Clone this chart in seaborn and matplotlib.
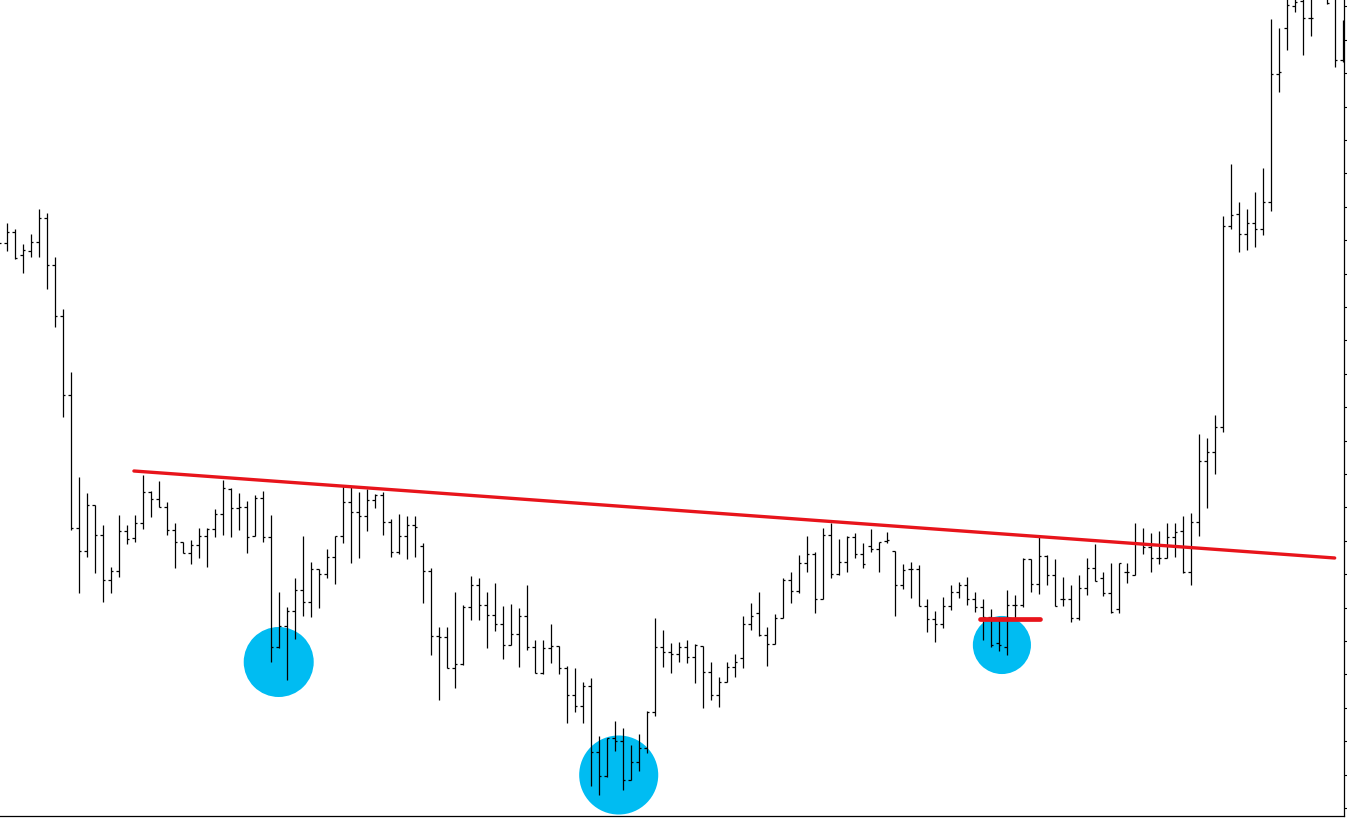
import numpy as np
import pandas as pd
import matplotlib
matplotlib.use("Agg")
import matplotlib.pyplot as plt
from matplotlib.ticker import MultipleLocator
import seaborn as sns

# OHLC bars (price in chart points)
highs = [578, 593, 587, 572, 582, 607, 603, 559, 507, 444,
         339, 323, 311, 291, 249, 301, 291, 301, 341, 325,
         335, 314, 293, 274, 276, 288, 288, 307, 336, 328,
         323, 315, 321, 325, 301, 224, 209, 238, 280, 254,
         247, 267, 280, 331, 330, 324, 327, 322, 324, 297,
         302, 300, 300, 273, 248, 189, 189, 224, 211, 240,
         238, 224, 233, 210, 212, 208, 231, 176, 176, 192,
         170, 150, 148, 134, 138, 80, 78, 95, 88, 71,
         82, 105, 198, 186, 173, 174, 176, 172, 170, 154,
         139, 154, 162, 200, 213, 224, 189, 202, 238, 244,
         261, 280, 264, 288, 293, 277, 280, 283, 273, 287,
         274, 284, 265, 252, 254, 251, 217, 205, 219, 231,
         234, 239, 224, 217, 207, 199, 226, 221, 258, 257,
         279, 261, 257, 239, 231, 241, 258, 272, 244, 253,
         253, 253, 293, 288, 283, 285, 293, 293, 300, 303,
         382, 378, 401, 600, 652, 614, 607, 624, 648, 797,
         788, 825, 830, 828, 826, 856, 840, 830, 796]
lows = [566, 565, 557, 543, 559, 559, 527, 489, 399, 286,
        223, 259, 243, 214, 223, 239, 272, 274, 287, 299,
        309, 281, 248, 263, 252, 258, 249, 279, 281, 279,
        286, 263, 280, 274, 154, 168, 136, 177, 200, 199,
        208, 238, 232, 273, 253, 258, 285, 308, 281, 259,
        262, 257, 259, 213, 161, 116, 148, 128, 151, 196,
        196, 168, 185, 157, 171, 149, 166, 143, 142, 153,
        142, 93, 104, 93, 30, 21, 39, 65, 26, 36,
        45, 63, 100, 149, 143, 154, 153, 133, 108, 116,
        109, 134, 139, 148, 186, 180, 150, 172, 198, 213,
        223, 244, 203, 217, 238, 241, 244, 258, 248, 264,
        244, 273, 200, 227, 218, 210, 184, 174, 188, 206,
        218, 211, 204, 176, 169, 165, 161, 198, 209, 224,
        222, 231, 210, 210, 194, 196, 221, 235, 220, 203,
        203, 233, 241, 262, 244, 252, 258, 259, 243, 231,
        280, 308, 342, 384, 587, 564, 566, 569, 581, 605,
        724, 766, 804, 761, 780, 824, 812, 749, 754]
opens = [570, 573, 584, 561, 565, 574, 598, 551, 500, 421,
         288, 265, 311, 281, 236, 245, 285, 278, 293, 324,
         317, 309, 286, 274, 263, 271, 280, 287, 302, 327,
         308, 309, 280, 318, 279, 169, 190, 205, 226, 214,
         247, 242, 259, 280, 314, 304, 300, 316, 321, 294,
         264, 280, 291, 270, 245, 180, 179, 148, 152, 209,
         231, 211, 201, 192, 171, 182, 200, 169, 143, 168,
         170, 148, 121, 110, 130, 64, 40, 78, 75, 36,
         54, 68, 104, 169, 164, 162, 169, 159, 170, 144,
         121, 134, 149, 158, 192, 203, 181, 172, 198, 236,
         225, 253, 262, 217, 281, 242, 254, 279, 262, 270,
         267, 275, 265, 231, 247, 247, 210, 197, 192, 210,
         224, 231, 217, 209, 199, 173, 169, 211, 211, 257,
         232, 260, 241, 217, 217, 198, 228, 248, 238, 223,
         207, 244, 241, 272, 269, 258, 258, 279, 285, 244,
         294, 355, 364, 389, 590, 602, 582, 593, 587, 614,
         742, 788, 810, 815, 798, 836, 821, 822, 756]
closes = [573, 584, 558, 566, 574, 598, 551, 500, 421, 288,
          265, 311, 281, 236, 245, 285, 277, 293, 324, 317,
          309, 286, 274, 263, 271, 280, 287, 302, 328, 308,
          309, 279, 318, 279, 169, 190, 205, 226, 214, 247,
          242, 259, 280, 314, 304, 300, 316, 321, 294, 264,
          280, 291, 289, 245, 180, 179, 148, 152, 209, 231,
          211, 201, 192, 171, 182, 200, 169, 143, 168, 170,
          148, 121, 110, 130, 64, 40, 78, 75, 36, 54,
          68, 104, 169, 164, 162, 169, 159, 171, 144, 121,
          134, 149, 154, 192, 200, 181, 172, 198, 236, 225,
          253, 262, 217, 281, 242, 254, 279, 262, 252, 267,
          274, 276, 231, 246, 247, 210, 197, 192, 210, 224,
          231, 217, 209, 199, 171, 171, 211, 211, 257, 232,
          260, 241, 210, 217, 198, 228, 248, 235, 223, 204,
          253, 244, 273, 269, 258, 258, 279, 284, 244, 294,
          355, 364, 389, 590, 601, 582, 593, 587, 614, 742,
          744, 811, 814, 798, 798, 841, 813, 756, 776]

# head & shoulders annotations (bar number, price)
neck_bar = [16.9, 167.0]
neck_price = [345, 258]
shoulder_bar = [122.7, 130.2]
shoulder_price = [197, 197]
low_bar = [35.0, 77.5, 125.4]
low_price = [154, 41, 171]
low_size = [2540, 3240, 1750]

df = pd.DataFrame({"bar": np.arange(len(highs)), "open": opens, "high": highs,
                   "low": lows, "close": closes})

sns.set_theme(style="white")
fig = plt.figure(figsize=(13.47, 8.18), dpi=100)
ax = fig.add_axes([0, 2 / 818, 1343.5 / 1347, 816 / 818])

# blue circles behind the bars
sns.scatterplot(x=low_bar, y=low_price, size=low_size, sizes=(min(low_size), max(low_size)),
                color="#00bcf2", linewidth=0, legend=False, ax=ax, zorder=1)

tick = 0.3
ax.vlines(df["bar"], df["low"], df["high"], color="black", lw=0.9, zorder=2)
ax.hlines(df["open"], df["bar"] - tick, df["bar"], color="black", lw=0.9, zorder=2)
ax.hlines(df["close"], df["bar"], df["bar"] + tick, color="black", lw=0.9, zorder=2)

# neckline + right shoulder level
sns.lineplot(x=neck_bar, y=neck_price, color="#e8141b", lw=2.4, ax=ax, zorder=3)
sns.lineplot(x=shoulder_bar, y=shoulder_price, color="#e8141b", lw=3.4, ax=ax, zorder=3)

ax.set_xlim(0.16, 168.1)
ax.set_ylim(0, 816)
ax.set_xlabel("")
ax.set_ylabel("")

for side in ["left", "top"]:
    ax.spines[side].set_visible(False)
for side in ["right", "bottom"]:
    ax.spines[side].set_color("black")
    ax.spines[side].set_linewidth(0.9)

ax.set_xticks([])
ax.yaxis.set_major_locator(MultipleLocator(33.4, offset=8))
ax.yaxis.tick_right()
ax.tick_params(axis="y", direction="out", length=2, width=0.8, color="black",
               labelright=False, labelleft=False, right=True, left=False)

fig.savefig("out.png", dpi=100)
